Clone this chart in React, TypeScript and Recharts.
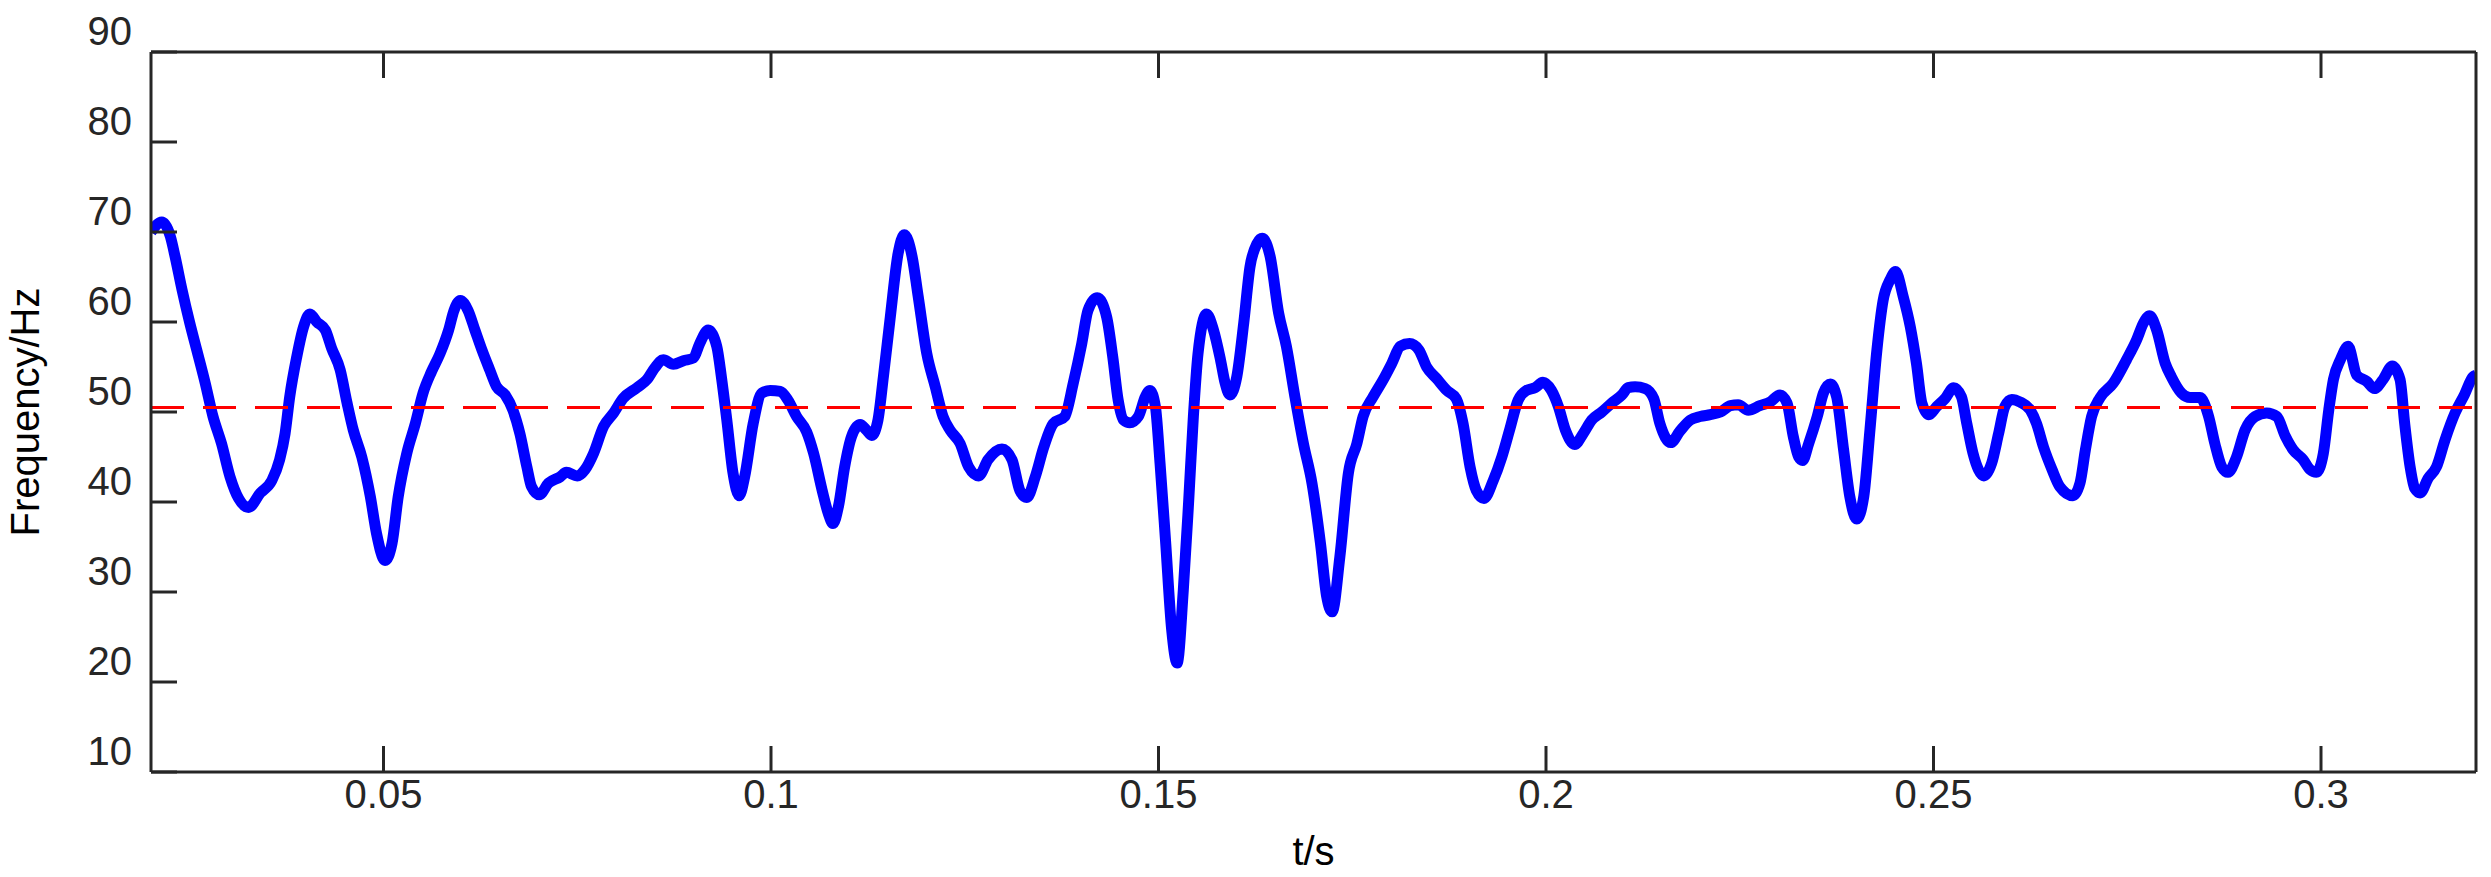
import { LineChart, Line, XAxis, YAxis, ReferenceLine } from 'recharts';

const timeValues = [
  0.0200, 0.0214, 0.0225, 0.0231, 0.0240, 0.0250, 0.0259, 0.0270, 0.0280, 0.0291,
  0.0302, 0.0313, 0.0326, 0.0341, 0.0356, 0.0366, 0.0373, 0.0379, 0.0388, 0.0397,
  0.0405, 0.0414, 0.0425, 0.0433, 0.0444, 0.0453, 0.0461, 0.0472, 0.0483, 0.0491,
  0.0502, 0.0511, 0.0519, 0.0530, 0.0541, 0.0551, 0.0562, 0.0573, 0.0584, 0.0591,
  0.0599, 0.0609, 0.0618, 0.0627, 0.0637, 0.0646, 0.0657, 0.0667, 0.0676, 0.0685,
  0.0691, 0.0701, 0.0713, 0.0728, 0.0736, 0.0750, 0.0760, 0.0771, 0.0784, 0.0797,
  0.0809, 0.0827, 0.0840, 0.0850, 0.0861, 0.0874, 0.0887, 0.0900, 0.0908, 0.0919,
  0.0930, 0.0936, 0.0943, 0.0951, 0.0959, 0.0966, 0.0977, 0.0988, 0.0999, 0.1012,
  0.1022, 0.1033, 0.1046, 0.1055, 0.1066, 0.1074, 0.1080, 0.1087, 0.1095, 0.1104,
  0.1115, 0.1123, 0.1130, 0.1138, 0.1145, 0.1154, 0.1164, 0.1172, 0.1182, 0.1190,
  0.1201, 0.1212, 0.1222, 0.1231, 0.1244, 0.1255, 0.1268, 0.1280, 0.1298, 0.1311,
  0.1321, 0.1330, 0.1341, 0.1352, 0.1364, 0.1379, 0.1390, 0.1401, 0.1409, 0.1421,
  0.1433, 0.1441, 0.1448, 0.1455, 0.1463, 0.1474, 0.1483, 0.1489, 0.1496, 0.1502,
  0.1509, 0.1517, 0.1524, 0.1532, 0.1539, 0.1545, 0.1551, 0.1562, 0.1571, 0.1580,
  0.1586, 0.1592, 0.1601, 0.1610, 0.1618, 0.1627, 0.1634, 0.1644, 0.1655, 0.1665,
  0.1676, 0.1687, 0.1698, 0.1709, 0.1717, 0.1724, 0.1734, 0.1745, 0.1756, 0.1764,
  0.1777, 0.1790, 0.1801, 0.1812, 0.1824, 0.1836, 0.1846, 0.1859, 0.1872, 0.1884,
  0.1893, 0.1902, 0.1910, 0.1920, 0.1932, 0.1943, 0.1953, 0.1964, 0.1975, 0.1986,
  0.1996, 0.2007, 0.2016, 0.2025, 0.2037, 0.2048, 0.2059, 0.2072, 0.2085, 0.2098,
  0.2106, 0.2115, 0.2128, 0.2139, 0.2147, 0.2161, 0.2173, 0.2186, 0.2199, 0.2212,
  0.2225, 0.2238, 0.2248, 0.2261, 0.2276, 0.2289, 0.2302, 0.2311, 0.2319, 0.2326,
  0.2331, 0.2339, 0.2350, 0.2358, 0.2367, 0.2375, 0.2384, 0.2392, 0.2401, 0.2410,
  0.2418, 0.2427, 0.2435, 0.2444, 0.2451, 0.2461, 0.2470, 0.2478, 0.2485, 0.2494,
  0.2504, 0.2515, 0.2526, 0.2536, 0.2543, 0.2551, 0.2558, 0.2565, 0.2575, 0.2584,
  0.2592, 0.2601, 0.2612, 0.2625, 0.2633, 0.2642, 0.2653, 0.2663, 0.2680, 0.2689,
  0.2696, 0.2704, 0.2715, 0.2732, 0.2749, 0.2762, 0.2771, 0.2779, 0.2788, 0.2799,
  0.2807, 0.2820, 0.2831, 0.2844, 0.2855, 0.2863, 0.2872, 0.2880, 0.2891, 0.2902,
  0.2915, 0.2930, 0.2943, 0.2954, 0.2964, 0.2977, 0.2986, 0.2994, 0.3003, 0.3010,
  0.3016, 0.3025, 0.3035, 0.3046, 0.3059, 0.3069, 0.3080, 0.3092, 0.3102, 0.3108,
  0.3115, 0.3121, 0.3128, 0.3138, 0.3149, 0.3160, 0.3173, 0.3185, 0.3196, 0.3200,
];

const frequencyValues = [
  70.0, 71.1, 69.5, 67.3, 63.6, 59.9, 56.9, 53.2, 49.5, 46.5,
  42.8, 40.4, 39.4, 41.0, 42.4, 44.7, 47.6, 51.7, 56.1, 59.5,
  60.9, 60.0, 59.1, 57.1, 54.7, 51.0, 48.0, 45.0, 40.6, 36.5,
  33.5, 35.4, 40.6, 45.4, 48.7, 52.1, 54.5, 56.5, 59.1, 61.3,
  62.4, 61.3, 59.1, 56.9, 54.7, 52.8, 51.9, 50.2, 47.6, 43.9,
  41.7, 40.8, 42.1, 42.8, 43.3, 42.9, 43.6, 45.4, 48.4, 49.9,
  51.5, 52.7, 53.6, 54.9, 55.8, 55.3, 55.7, 56.0, 57.6, 59.1,
  57.3, 53.9, 49.1, 43.2, 40.7, 42.8, 48.7, 52.1, 52.4, 52.3,
  51.3, 49.5, 47.8, 45.4, 41.3, 38.7, 37.6, 39.5, 43.9, 47.3,
  48.6, 48.0, 47.4, 49.1, 53.9, 60.6, 67.6, 69.7, 67.3, 62.8,
  56.5, 52.8, 49.5, 48.0, 46.5, 43.9, 42.9, 44.7, 45.9, 44.7,
  41.3, 40.5, 42.8, 46.1, 48.7, 49.5, 53.2, 57.6, 61.3, 62.7,
  60.6, 56.1, 51.3, 49.1, 48.8, 49.5, 51.7, 52.4, 50.6, 44.3,
  35.8, 25.8, 22.1, 30.2, 40.2, 49.5, 56.5, 60.9, 59.1, 55.8,
  53.2, 51.9, 53.9, 59.9, 66.1, 68.7, 69.3, 67.3, 61.0, 57.3,
  51.7, 46.5, 42.1, 35.4, 29.5, 27.8, 33.9, 43.2, 46.5, 49.5,
  51.7, 53.6, 55.4, 57.3, 57.6, 56.9, 55.0, 53.7, 52.4, 51.5,
  48.7, 43.9, 41.3, 40.4, 42.4, 45.0, 48.0, 51.3, 52.4, 52.7,
  53.3, 52.4, 50.6, 48.0, 46.4, 47.6, 49.1, 50.0, 51.0, 51.9,
  52.7, 52.8, 52.6, 51.5, 48.7, 46.6, 47.9, 49.1, 49.5, 49.7,
  50.0, 50.7, 50.8, 50.2, 50.7, 51.1, 51.9, 51.0, 47.3, 45.0,
  44.6, 46.5, 49.5, 52.1, 53.1, 51.7, 45.8, 40.6, 38.1, 40.6,
  48.0, 56.9, 62.4, 64.7, 65.6, 62.8, 59.5, 55.4, 51.0, 49.7,
  50.6, 51.5, 52.7, 51.7, 48.7, 45.4, 43.6, 42.9, 44.3, 47.6,
  50.6, 51.4, 51.1, 50.2, 48.7, 46.1, 43.6, 41.7, 40.7, 42.1,
  45.8, 49.5, 51.6, 53.2, 55.8, 58.0, 59.9, 60.7, 59.1, 55.4,
  53.9, 52.1, 51.6, 51.6, 49.5, 46.5, 43.9, 43.3, 45.0, 48.0,
  49.5, 49.9, 49.5, 47.3, 45.8, 44.7, 43.6, 43.3, 45.4, 50.2,
  53.6, 55.8, 57.3, 54.1, 53.4, 52.6, 53.6, 55.1, 53.6, 48.7,
  43.9, 41.5, 41.0, 42.6, 43.9, 46.9, 49.9, 51.9, 53.9, 54.1,
];

const meanFrequency = 50.5;

const timeTicks = [0.05, 0.1, 0.15, 0.2, 0.25, 0.3];
const frequencyTicks = [10, 20, 30, 40, 50, 60, 70, 80, 90];

const chartData = timeValues.map((t, i) => ({ t, f: frequencyValues[i] }));

const AXIS = '#262626';
const FONT = '"Liberation Sans", Arial, sans-serif';
const TICK_LEN = 26;

// MATLAB style: ticks point into the plot box
const BottomTick = ({ x, y, payload }: any) => (
  <g>
    <line x1={x} x2={x} y1={y} y2={y - TICK_LEN} stroke={AXIS} strokeWidth={3} />
    <text x={x} y={y + 22} dy="0.35em" textAnchor="middle" fill={AXIS} fontSize={40} fontFamily={FONT}>
      {String(payload.value)}
    </text>
  </g>
);

const TopTick = ({ x, y }: any) => (
  <line x1={x} x2={x} y1={y} y2={y + TICK_LEN} stroke={AXIS} strokeWidth={3} />
);

const LeftTick = ({ x, y, payload }: any) => (
  <g>
    <line x1={x} x2={x + TICK_LEN} y1={y} y2={y} stroke={AXIS} strokeWidth={3} />
    <text x={x - 19} y={y - 21} dy="0.35em" textAnchor="end" fill={AXIS} fontSize={40} fontFamily={FONT}>
      {String(payload.value)}
    </text>
  </g>
);

const RightTick = ({ x, y }: any) => (
  <line x1={x} x2={x - TICK_LEN} y1={y} y2={y} stroke={AXIS} strokeWidth={3} />
);

const YTitle = ({ viewBox }: any) => (
  <text
    transform={`translate(39, ${viewBox.y + viewBox.height / 2}) rotate(-90)`}
    textAnchor="middle"
    fill="#000"
    fontSize={40}
    fontFamily={FONT}
  >
    Frequency/Hz
  </text>
);

export default function App() {
  return (
    <div style={{ position: 'absolute', left: 0, top: 0, width: 2491, height: 877, background: '#fff' }}>
      <LineChart width={2491} height={877} data={chartData} margin={{ top: 32, right: 0, bottom: 45, left: 71 }}>
        <XAxis
          dataKey="t"
          type="number"
          domain={[0.02, 0.32]}
          allowDataOverflow
          ticks={timeTicks}
          interval={0}
          height={60}
          tickSize={0}
          tickMargin={0}
          tickLine={false}
          axisLine={{ stroke: AXIS, strokeWidth: 3 }}
          tick={BottomTick}
          label={{ value: 't/s', position: 'bottom', offset: 5, fill: '#000', fontSize: 40, fontFamily: FONT }}
        />
        <XAxis
          xAxisId="top"
          orientation="top"
          dataKey="t"
          type="number"
          domain={[0.02, 0.32]}
          allowDataOverflow
          ticks={timeTicks}
          interval={0}
          height={20}
          tickSize={0}
          tickMargin={0}
          tickLine={false}
          axisLine={{ stroke: AXIS, strokeWidth: 3 }}
          tick={TopTick}
        />
        <YAxis
          type="number"
          domain={[10, 90]}
          ticks={frequencyTicks}
          interval={0}
          width={80}
          tickSize={0}
          tickMargin={0}
          tickLine={false}
          axisLine={{ stroke: AXIS, strokeWidth: 3 }}
          tick={LeftTick}
          label={YTitle}
        />
        <YAxis
          yAxisId="right"
          orientation="right"
          type="number"
          domain={[10, 90]}
          ticks={frequencyTicks}
          interval={0}
          width={15}
          tickSize={0}
          tickMargin={0}
          tickLine={false}
          axisLine={{ stroke: AXIS, strokeWidth: 3 }}
          tick={RightTick}
        />
        <Line
          type="monotone"
          dataKey="f"
          stroke="#0000ff"
          strokeWidth={11}
          strokeLinejoin="round"
          dot={false}
          activeDot={false}
          isAnimationActive={false}
        />
        <ReferenceLine y={meanFrequency} stroke="#ff0000" strokeWidth={3} strokeDasharray="33 19" />
      </LineChart>
    </div>
  );
}
